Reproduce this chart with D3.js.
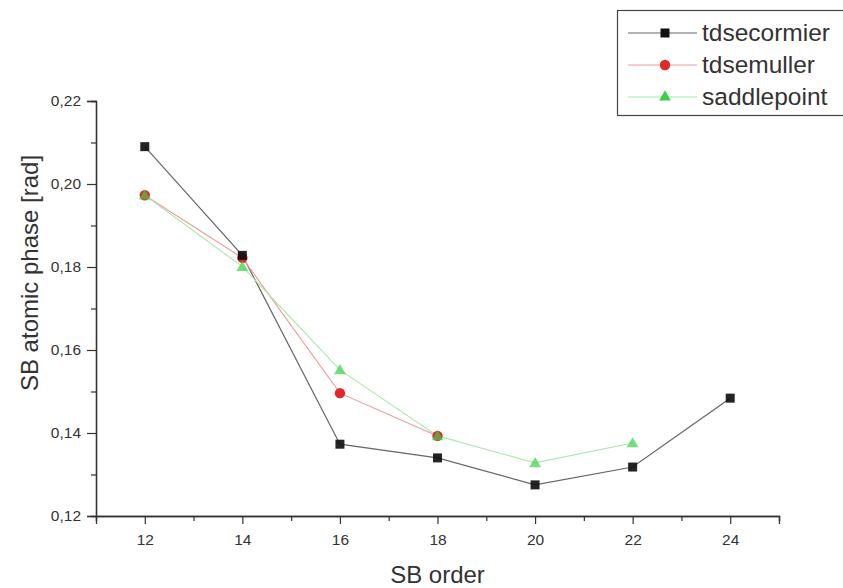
<!DOCTYPE html>
<html>
<head>
<meta charset="utf-8">
<script src="https://cdn.jsdelivr.net/npm/d3@7"></script>
<style>
  html, body { margin: 0; padding: 0; background: #fff; }
  svg { display: block; font-family: "Liberation Sans", Arial, sans-serif; }
</style>
</head>
<body>
<svg id="chart" width="843" height="588"></svg>
<script>
// ---- data ----
const xCormier = [12, 14, 16, 18, 20, 22, 24];
const yCormier = [0.2090, 0.1828, 0.1373, 0.1340, 0.1275, 0.1318, 0.1484];
const xMuller = [12, 14, 16, 18];
const yMuller = [0.1973, 0.1822, 0.1496, 0.1393];
const xSaddle = [12, 14, 16, 18, 20, 22];
const ySaddle = [0.1973, 0.1801, 0.1552, 0.1393, 0.1328, 0.1376];
const seriesNames = ["tdsecormier", "tdsemuller", "saddlepoint"];
const xMajorTicks = [12, 14, 16, 18, 20, 22, 24];
const xMinorTicks = [11, 13, 15, 17, 19, 21, 23, 25];
const yMajorTicks = [0.12, 0.14, 0.16, 0.18, 0.20, 0.22];
const yMinorTicks = [0.13, 0.15, 0.17, 0.19, 0.21];
const yTickLabels = ["0,12", "0,14", "0,16", "0,18", "0,20", "0,22"];
const xLabel = "SB order";
const yLabel = "SB atomic phase [rad]";

// ---- layout ----
const svg = d3.select("#chart");
const x = d3.scaleLinear().domain([11, 25]).range([96, 779]);
const y = d3.scaleLinear().domain([0.12, 0.22]).range([516, 101]);

// axes
const xAxis = svg.append("g").attr("transform", `translate(0,${y(0.12)})`)
  .call(d3.axisBottom(x).tickValues(xMajorTicks).tickSize(8).tickPadding(10).tickFormat(d3.format("d")));
const xAxisMinor = svg.append("g").attr("transform", `translate(0,${y(0.12)})`)
  .call(d3.axisBottom(x).tickValues(xMinorTicks).tickSize(5).tickFormat(""));
const yAxis = svg.append("g").attr("transform", `translate(${x(11)},0)`)
  .call(d3.axisLeft(y).tickValues(yMajorTicks).tickSize(9).tickPadding(6)
    .tickFormat((d, i) => yTickLabels[i]));
const yAxisMinor = svg.append("g").attr("transform", `translate(${x(11)},0)`)
  .call(d3.axisLeft(y).tickValues(yMinorTicks).tickSize(5).tickFormat(""));

[xAxis, xAxisMinor, yAxis, yAxisMinor].forEach(g => {
  g.select(".domain").attr("stroke", "#333").attr("stroke-width", 1.3);
  g.selectAll(".tick line").attr("stroke", "#333").attr("stroke-width", 1.2);
  g.selectAll("text").attr("font-size", 15.5).attr("fill", "#333")
    .attr("font-family", "'Liberation Sans', Arial, sans-serif");
});

// axis labels
svg.append("text").attr("x", x(18)).attr("y", 583).attr("text-anchor", "middle")
  .attr("font-size", 24).attr("fill", "#333").text(xLabel);
svg.append("text").attr("transform", "translate(38,273) rotate(-90)")
  .attr("text-anchor", "middle").attr("font-size", 24).attr("fill", "#333").text(yLabel);

// lines
const line = d3.line().x(d => x(d[0])).y(d => y(d[1]));
const dCormier = xCormier.map((v, i) => [v, yCormier[i]]);
const dMuller = xMuller.map((v, i) => [v, yMuller[i]]);
const dSaddle = xSaddle.map((v, i) => [v, ySaddle[i]]);

svg.append("path").datum(dCormier).attr("d", line).attr("fill", "none")
  .attr("stroke", "#666").attr("stroke-width", 1.2);
svg.append("path").datum(dMuller).attr("d", line).attr("fill", "none")
  .attr("stroke", "#f09a9a").attr("stroke-width", 1.1);
svg.append("path").datum(dSaddle).attr("d", line).attr("fill", "none")
  .attr("stroke", "#a8eaa8").attr("stroke-width", 1.1);

const sq = d3.symbol().type(d3.symbolSquare).size(81);
const ci = d3.symbol().type(d3.symbolCircle).size(85);
const tr = d3.symbol().type(d3.symbolTriangle).size(60);

svg.append("g").selectAll("path").data(dMuller).join("path")
  .attr("d", ci).attr("transform", d => `translate(${x(d[0])},${y(d[1])})`)
  .attr("fill", "#e02828");
svg.append("g").selectAll("path").data(dCormier).join("path")
  .attr("d", sq).attr("transform", d => `translate(${x(d[0])},${y(d[1])})`)
  .attr("fill", "#111").attr("fill-opacity", 0.92);
svg.append("g").selectAll("path").data(dSaddle).join("path")
  .attr("d", tr).attr("transform", d => `translate(${x(d[0])},${y(d[1]) + 1})`)
  .attr("fill", "#3ccf4a").attr("fill-opacity", 0.7);

// legend
const lg = svg.append("g");
lg.append("rect").attr("x", 617.5).attr("y", 10.5).attr("width", 240).attr("height", 105)
  .attr("fill", "#fff").attr("stroke", "#444").attr("stroke-width", 1.2);
const legendColors = ["#666", "#f09a9a", "#a8eaa8"];
const legendFill = ["#111", "#e02828", "#3ccf4a"];
const legendSym = [sq, ci, tr];
seriesNames.forEach((name, i) => {
  const cy = 33 + i * 32;
  lg.append("line").attr("x1", 628).attr("x2", 697).attr("y1", cy).attr("y2", cy)
    .attr("stroke", legendColors[i]).attr("stroke-width", 1.1);
  lg.append("path").attr("d", legendSym[i]).attr("transform", `translate(665,${cy})`)
    .attr("fill", legendFill[i]);
  lg.append("text").attr("x", 702).attr("y", cy + 8).attr("font-size", 24.5)
    .attr("fill", "#333").text(name);
});
</script>
</body>
</html>
